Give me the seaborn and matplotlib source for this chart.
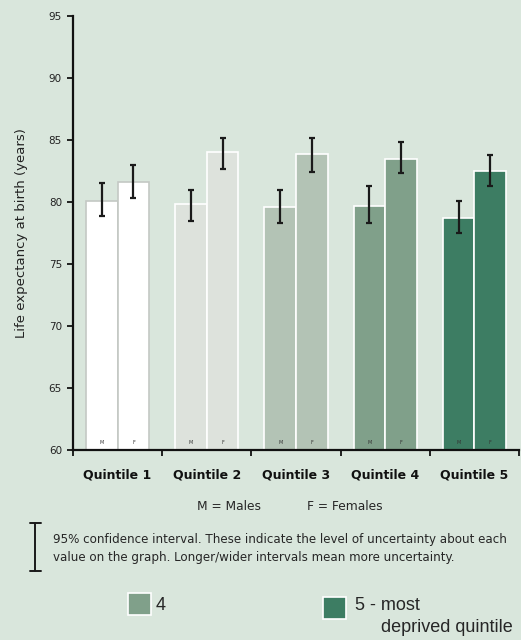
import numpy as np
import pandas as pd
import seaborn as sns
import matplotlib.pyplot as plt
from matplotlib.patches import Rectangle

quintiles = ['Quintile 1', 'Quintile 2', 'Quintile 3', 'Quintile 4', 'Quintile 5']
males = [80.1, 79.8, 79.6, 79.7, 78.7]
males_lo = [78.9, 78.5, 78.3, 78.3, 77.5]
males_hi = [81.5, 81.0, 81.0, 81.3, 80.1]
females = [81.6, 84.0, 83.9, 83.5, 82.5]
females_lo = [80.3, 82.7, 82.4, 82.3, 81.3]
females_hi = [83.0, 85.2, 85.2, 84.8, 83.8]
colors = ['#ffffff', '#dde2dc', '#b3c3b5', '#80a08a', '#3d7d63']
edges = ['#c4c8c4', '#ffffff', '#ffffff', '#ffffff', '#ffffff']
bg = '#d9e6dc'

sns.set_theme(style='white')
plt.rcParams['font.family'] = ['DejaVu Sans']

df = pd.DataFrame({
    'quintile': quintiles * 2,
    'sex': ['M'] * 5 + ['F'] * 5,
    'value': males + females,
    'lo': males_lo + females_lo,
    'hi': males_hi + females_hi,
})

fig = plt.figure(figsize=(5.21, 6.40), dpi=100, facecolor=bg)
ax = fig.add_axes([73 / 521, 1 - 450 / 640, 446 / 521, 434 / 640])
ax.set_facecolor(bg)

sns.barplot(data=df, x='quintile', y='value', hue='sex', width=0.71,
            errorbar=None, legend=False, ax=ax, linewidth=1.2)

# recolour by quintile, add error bars and M/F letters
for i, sex in enumerate(['M', 'F']):
    cont = ax.containers[i]
    sub = df[df['sex'] == sex].reset_index(drop=True)
    for j, bar in enumerate(cont):
        bar.set_facecolor(colors[j])
        bar.set_edgecolor(edges[j])
        cx = bar.get_x() + bar.get_width() / 2
        v = sub.loc[j, 'value']
        ax.errorbar(cx, v, yerr=[[v - sub.loc[j, 'lo']], [sub.loc[j, 'hi'] - v]],
                    fmt='none', ecolor='#1a1a1a', elinewidth=1.6, capsize=2.5, capthick=1.6)
        ax.text(cx, 60.4, sex, ha='center', va='bottom', fontsize=3.5, color='#333333')

ax.set_ylim(60, 95)
ax.set_xlim(-0.5, 4.5)
ax.set_yticks(np.arange(60, 96, 5))
ax.tick_params(axis='y', direction='out', length=4, width=1.2, color='black',
               labelsize=7.5, pad=4, left=True, labelcolor='#222222')
ax.set_xticks(range(5))
ax.set_xticklabels(quintiles, fontsize=9, fontweight='bold')
ax.tick_params(axis='x', length=0, pad=13, labelcolor='#111111')
ax.set_xticks(np.arange(-0.5, 4.6, 1), minor=True)
ax.tick_params(axis='x', which='minor', direction='out', length=4, width=1.2, color='black', bottom=True)
for s in ['top', 'right']:
    ax.spines[s].set_visible(False)
for s in ['left', 'bottom']:
    ax.spines[s].set_color('#111111')
    ax.spines[s].set_linewidth(1.6)
ax.set_xlabel('')
ax.set_ylabel('Life expectancy at birth (years)', fontsize=9.5, labelpad=15, color='#222222')

fig.text(197 / 521, 1 - 506 / 640, 'M = Males', fontsize=8.8, va='center')
fig.text(307 / 521, 1 - 506 / 640, 'F = Females', fontsize=8.8, va='center')

# confidence interval key
fig.add_artist(plt.Line2D([35 / 521, 35 / 521], [1 - 523 / 640, 1 - 571 / 640], color='#1a1a1a', lw=1.4))
fig.add_artist(plt.Line2D([30 / 521, 41 / 521], [1 - 523 / 640, 1 - 523 / 640], color='#1a1a1a', lw=1.4))
fig.add_artist(plt.Line2D([30 / 521, 41 / 521], [1 - 571 / 640, 1 - 571 / 640], color='#1a1a1a', lw=1.4))
fig.text(53 / 521, 1 - 539 / 640,
         '95% confidence interval. These indicate the level of uncertainty about each',
         fontsize=8.6, va='center')
fig.text(53 / 521, 1 - 557 / 640,
         'value on the graph. Longer/wider intervals mean more uncertainty.',
         fontsize=8.6, va='center')

# colour key
fig.add_artist(Rectangle((128 / 521, 1 - 615 / 640), 23 / 521, 22 / 640,
                         facecolor=colors[3], edgecolor='white', lw=1.2, transform=fig.transFigure))
fig.text(156 / 521, 1 - 605 / 640, '4', fontsize=13, va='center', family='Liberation Sans')
fig.add_artist(Rectangle((323 / 521, 1 - 619 / 640), 23 / 521, 22 / 640,
                         facecolor=colors[4], edgecolor='white', lw=1.2, transform=fig.transFigure))
fig.text(355 / 521, 1 - 606 / 640, '5 - most', fontsize=13, va='center', family='Liberation Sans')
fig.text(381 / 521, 1 - 628 / 640, 'deprived quintile', fontsize=13, va='center', family='Liberation Sans')

fig.savefig('out.png', dpi=100, facecolor=bg)
